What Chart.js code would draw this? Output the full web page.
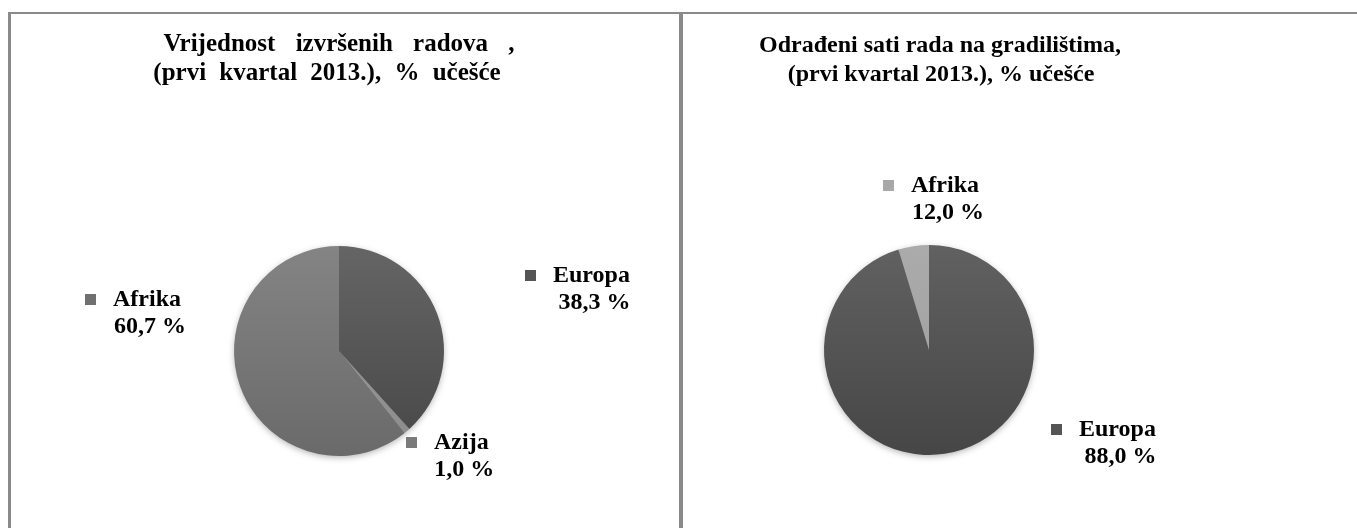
<!DOCTYPE html>
<html>
<head>
<meta charset="utf-8">
<script src="https://cdn.jsdelivr.net/npm/chart.js@4.4.0/dist/chart.umd.min.js"></script>
<style>
  html, body { margin: 0; padding: 0; background: #fff; }
  #page { position: relative; width: 1357px; height: 528px; overflow: hidden; background: #fff; }
  .frame { position: absolute; left: 8px; top: 12px; width: 1400px; height: 600px;
           border-top: 2px solid #8a8a8a; border-left: 3px solid #8a8a8a; }
  .divider { position: absolute; left: 679px; top: 12px; width: 4px; height: 600px; background: #8a8a8a; }
  .box { position: absolute; top: 15px; height: 513px; }
  #leftBox { left: 11px; width: 668px; }
  #rightBox { left: 683px; width: 674px; }
</style>
</head>
<body>
<div id="page">
  <div class="frame"></div>
  <div class="divider"></div>
  <div class="box" id="leftBox"><canvas id="leftChart"></canvas></div>
  <div class="box" id="rightBox"><canvas id="rightChart"></canvas></div>
</div>
<script>
// left pie: value of works done
const leftTitle = ["Vrijednost izvršenih radova ,", "(prvi kvartal 2013.), % učešće"];
const leftCategories = ["Europa", "Azija", "Afrika"];
const leftValues = [38.3, 1.0, 60.7];

// right pie: hours worked on sites
// the slice is drawn at ~4.7% in the original even though it prints 12,0 %
const rightTitle = ["Odrađeni sati rada na gradilištima,", "(prvi kvartal 2013.), % učešće"];
const rightCategories = ["Europa", "Afrika"];
const rightValues = [95.3, 4.7];
const rightPrinted = ["88,0 %", "12,0 %"];

const fmt = v => v.toFixed(1).replace(".", ",") + " %";
const FONT = "'Liberation Serif', 'Times New Roman', serif";

// vertical gradient per slice, like the office shading
function shade(stops) {
    return (c) => {
        const [top, bottom] = stops[c.dataIndex];
        const area = c.chart.chartArea;
        if (!area) return bottom;
        const g = c.chart.ctx.createLinearGradient(0, area.top, 0, area.bottom);
        g.addColorStop(0, top);
        g.addColorStop(1, bottom);
        return g;
    };
}

const pieText = {
    id: "pieText",
    beforeDatasetsDraw(chart) {
        // soft shadow under the pie
        const arc = chart.getDatasetMeta(0).data[0];
        const ctx = chart.ctx;
        ctx.save();
        ctx.shadowColor = "rgba(0,0,0,0.35)";
        ctx.shadowBlur = 7;
        ctx.shadowOffsetY = 2;
        ctx.fillStyle = "#666";
        ctx.beginPath();
        ctx.arc(arc.x, arc.y, arc.outerRadius - 1, 0, Math.PI * 2);
        ctx.fill();
        ctx.restore();
    },
    afterDraw(chart, args, opts) {
        const ctx = chart.ctx;
        const meta = chart.getDatasetMeta(0);
        ctx.save();
        ctx.fillStyle = "#000";

        // title
        ctx.font = "bold " + opts.titleSize + "px " + FONT;
        ctx.textAlign = "center";
        ctx.textBaseline = "alphabetic";
        opts.title.forEach((line, i) => {
            if ("wordSpacing" in ctx) ctx.wordSpacing = opts.wordSpacing[i] + "px";
            ctx.fillText(line, opts.titleX[i], opts.titleY + i * 29);
        });
        if ("wordSpacing" in ctx) ctx.wordSpacing = "0px";

        // data labels with legend key
        ctx.font = "bold 24px " + FONT;
        ctx.textBaseline = "middle";
        meta.data.forEach((arc, i) => {
            const off = opts.offsets[i];
            const sx = arc.x + off[0];
            const sy = arc.y + off[1];
            ctx.fillStyle = opts.keys[i];
            ctx.fillRect(sx, sy - 6, 11, 11);
            ctx.fillStyle = "#000";
            const name = chart.data.labels[i];
            const tx = sx + 28;
            ctx.textAlign = "left";
            ctx.fillText(name, tx, sy);
            const w = ctx.measureText(name).width;
            ctx.textAlign = "center";
            ctx.fillText(opts.printed[i], tx + w / 2 + 3, sy + 27);
        });
        ctx.restore();
    }
};

function pie(id, labels, values, stops, pad, textOpts) {
    new Chart(document.getElementById(id), {
        type: "pie",
        data: {
            labels: labels,
            datasets: [{
                data: values,
                backgroundColor: shade(stops),
                borderWidth: 0,
                hoverOffset: 0
            }]
        },
        options: {
            responsive: true,
            maintainAspectRatio: false,
            animation: false,
            layout: { padding: pad },
            plugins: {
                legend: { display: false },
                tooltip: { enabled: false },
                pieText: textOpts
            }
        },
        plugins: [pieText]
    });
}

pie("leftChart", leftCategories, leftValues,
    [["#656565", "#474747"], ["#9c9c9c", "#8c8c8c"], ["#848484", "#6a6a6a"]],
    { left: 223, right: 235, top: 231, bottom: 72 },
    {
        title: leftTitle, titleSize: 25, titleX: [328, 316], titleY: 36, wordSpacing: [14, 7],
        printed: leftValues.map(fmt),
        keys: ["#555555", "#7a7a7a", "#707070"],
        offsets: [[186, -75], [67, 92], [-254, -51]]
    });

pie("rightChart", rightCategories, rightValues,
    [["#616161", "#464646"], ["#ababab", "#9c9c9c"]],
    { left: 141, right: 323, top: 230, bottom: 73 },
    {
        title: rightTitle, titleSize: 24, titleX: [257, 258], titleY: 37, wordSpacing: [0, 0],
        printed: rightPrinted,
        keys: ["#555555", "#a8a8a8"],
        offsets: [[122, 80], [-46, -164]]
    });
</script>
</body>
</html>
